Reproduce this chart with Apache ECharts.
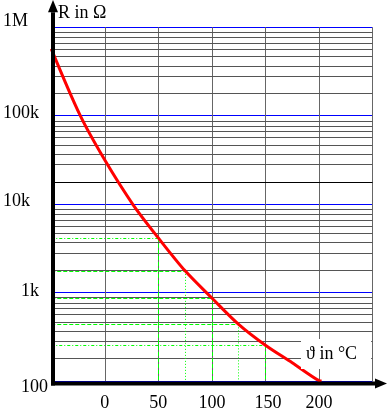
<!DOCTYPE html>
<html><head><meta charset="utf-8">
<script src="https://cdn.jsdelivr.net/npm/echarts@6/dist/echarts.min.js"></script>
<style>html,body{margin:0;padding:0;background:#fff}#c{width:387px;height:412px}</style>
</head><body><div id="c"></div>
<script>
// ---- data ----
const temps  = [-50, -23, 0, 26.3, 50, 75, 100, 125, 150, 175, 200, 202.5];
const resist = [570000, 100700, 31500, 9900, 4150, 1760, 867, 437, 254, 161, 101, 100];
const refTemps = [50, 75, 100, 125, 150];
const xTickValues = [0, 50, 100, 150, 200];
const yTickValues = [100, 1000, 10000, 100000, 1000000];
const yTickLabels = ['100', '1k', '10k', '100k', '1M'];
const minorMantissas = [1.79, 2.79, 3.67, 4.66, 5.65, 6.65, 7.66, 8.75];
const decadeBases = [100, 1000, 10000, 100000];
const blackLineValues = [17900];

// ---- styles ----
const FONT = 'Liberation Serif';
const refHDash = [[3,2,1,2],[4,2],[4,2],[4,2],[3,2,1,2]];
const refVDash = [[4,2],[1,2],[4,2],[1,2],[4,2]];
const GREEN = '#00ff00';

const chart = echarts.init(document.getElementById('c'), null, {renderer:'canvas'});

const minorLines = [];
decadeBases.forEach(b => minorMantissas.forEach(m => minorLines.push({yAxis: b*m})));
const blackLines = blackLineValues.map(v => ({yAxis: v, lineStyle:{color:'#000', width:1, type:'solid'}}));

function rAt(t){ return resist[temps.indexOf(t)]; }
const refLines = [];
refTemps.forEach((t,i) => {
  const r = rAt(t);
  refLines.push([{coord:[-50, r], lineStyle:{color:GREEN, width:1, type:refHDash[i]}}, {coord:[t, r]}]);
  refLines.push([{coord:[t, r], lineStyle:{color:GREEN, width:1, type:refVDash[i]}}, {coord:[t, 100]}]);
});

const rich = {};
const yPads = [[12,0,0,18],[0,0,2,18],[0,0,6,0],[0,0,5,0],[0,0,12,0]];
yPads.forEach((p,i) => rich['l'+i] = {padding:p, fontSize:18, fontFamily:FONT, color:'#000'});

chart.setOption({
  animation:false,
  backgroundColor:'#fff',
  textStyle:{fontFamily:FONT},
  grid:{left:50.25, right:14.5, top:27.3, bottom:27.4},
  title:[
    {text:'R in Ω', left:58, top:4, padding:0,
     textStyle:{fontSize:18, fontWeight:'normal', fontFamily:FONT, color:'#000'}},
    {text:'ϑ in °C', left:301, top:339, padding:[6,14,6,5], backgroundColor:'#fff',
     textStyle:{fontSize:18, fontWeight:'normal', fontFamily:FONT, color:'#000'}}
  ],
  xAxis:{type:'value', min:-50, max:250, interval:50,
    axisLine:{show:false}, axisTick:{show:false},
    splitLine:{show:true, lineStyle:{color:'#666', width:1}},
    axisLabel:{margin:13, fontSize:18, fontFamily:FONT, color:'#000',
      formatter: v => xTickValues.includes(v) ? (v === 150 ? '{s|150}' : String(v)) : '',
      rich:{s:{padding:[0,0,0,5], fontSize:18, fontFamily:FONT, color:'#000'}}}},
  yAxis:{type:'log', logBase:10, min:100, max:1000000,
    axisLine:{show:false}, axisTick:{show:false},
    splitLine:{show:true, lineStyle:{color:'#0000ff', width:1}},
    axisLabel:{align:'left', margin:48.25, fontSize:18, fontFamily:FONT, color:'#000',
      showMinLabel:true, showMaxLabel:true,
      formatter: v => { const i = yTickValues.findIndex(t => Math.abs(t - v)/t < 1e-6);
        return i < 0 ? '' : '{l'+i+'|'+yTickLabels[i]+'}'; },
      rich: rich}},
  series:[
    {type:'line', data:[], silent:true, z:1,
     markLine:{silent:true, symbol:['none','none'], label:{show:false}, animation:false,
       lineStyle:{color:'#555', width:1, type:'solid'}, data: minorLines.concat(blackLines)}},
    {type:'line', data:[], silent:true, z:3,
     markLine:{silent:true, symbol:['none','none'], label:{show:false}, animation:false,
       data: refLines}},
    {type:'line', name:'R', z:5, showSymbol:false, smooth:0.3,
     lineStyle:{color:'#ff0000', width:3}, itemStyle:{color:'#ff0000'},
     data: temps.map((t,i) => [t, resist[i]])}
  ]
});

// axes with arrows, positioned from the chart's own scales
const p0 = chart.convertToPixel({gridIndex:0}, [-50, 100]);
const pT = chart.convertToPixel({gridIndex:0}, [-50, 1000000]);
const pR = chart.convertToPixel({gridIndex:0}, [250, 100]);
const ax = p0[0] + 1.75, ay = p0[1] + 2.4;
chart.setOption({graphic:[
  {type:'line', z:50, shape:{x1:ax, y1:ay+2, x2:ax, y2:pT[1]-15}, style:{stroke:'#000', lineWidth:4}},
  {type:'polygon', z:50, shape:{points:[[ax, pT[1]-27.3],[ax-5, pT[1]-15],[ax+5, pT[1]-15]]}, style:{fill:'#000'}},
  {type:'line', z:50, shape:{x1:ax-2, y1:ay, x2:pR[0]+3, y2:ay}, style:{stroke:'#000', lineWidth:4}},
  {type:'polygon', z:50, shape:{points:[[pR[0]+14.5, ay],[pR[0]+2.5, ay-5],[pR[0]+2.5, ay+5]]}, style:{fill:'#000'}}
]});
</script></body></html>
